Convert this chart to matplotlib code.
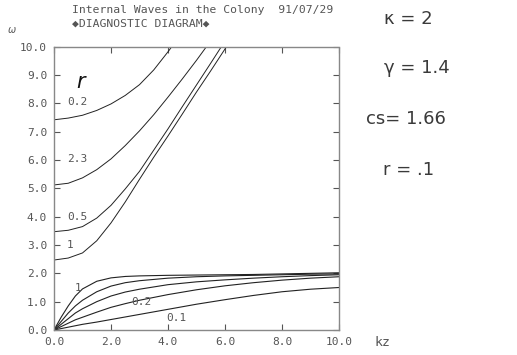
import matplotlib
matplotlib.use("Agg")
import matplotlib.pyplot as plt

# ---- data ----
kz_up = [0, 0.5, 1, 1.5, 2, 2.5, 3, 3.5, 4, 4.5, 5, 5.5, 6, 6.5]
up_r02 = [7.42, 7.48, 7.58, 7.75, 7.98, 8.28, 8.66, 9.18, 9.82, 10.5, 11.1, 11.7, 12.3, 12.9]
up_r23 = [5.12, 5.18, 5.37, 5.66, 6.04, 6.51, 7.03, 7.60, 8.22, 8.86, 9.52, 10.21, 10.9, 11.6]
up_r05 = [3.47, 3.52, 3.65, 3.95, 4.40, 4.98, 5.60, 6.35, 7.10, 7.88, 8.65, 9.42, 10.2, 11.0]
up_r1 = [2.47, 2.54, 2.72, 3.15, 3.78, 4.52, 5.32, 6.10, 6.85, 7.62, 8.40, 9.15, 9.92, 10.7]

kz_lo = [0, 0.25, 0.5, 0.75, 1, 1.5, 2, 2.5, 3, 4, 5, 6, 7, 8, 9, 10]
lo_1 = [0, 0.45, 0.85, 1.20, 1.45, 1.72, 1.84, 1.89, 1.91, 1.93, 1.94, 1.95, 1.96, 1.98, 2.00, 2.02]
lo_b = [0, 0.30, 0.60, 0.85, 1.05, 1.35, 1.55, 1.67, 1.74, 1.83, 1.88, 1.91, 1.93, 1.95, 1.97, 1.98]
lo_c = [0, 0.20, 0.40, 0.60, 0.75, 1.00, 1.20, 1.34, 1.44, 1.60, 1.70, 1.77, 1.83, 1.88, 1.92, 1.95]
lo_02 = [0, 0.12, 0.24, 0.36, 0.45, 0.63, 0.80, 0.93, 1.05, 1.25, 1.42, 1.56, 1.67, 1.76, 1.83, 1.88]
lo_01 = [0, 0.05, 0.10, 0.15, 0.20, 0.28, 0.37, 0.46, 0.55, 0.73, 0.91, 1.07, 1.22, 1.35, 1.44, 1.50]

xticks = [0, 2, 4, 6, 8, 10]
xticklabels = ["0.0", "2.0", "4.0", "6.0", "8.0", "10.0"]
yticks = [0, 1, 2, 3, 4, 5, 6, 7, 8, 9, 10]
yticklabels = ["0.0", "1.0", "2.0", "3.0", "4.0", "5.0", "6.0", "7.0", "8.0", "9.0", "10.0"]

title1 = "Internal Waves in the Colony  91/07/29"
title2 = "\u25c6DIAGNOSTIC DIAGRAM\u25c6"
params = ["\u03ba = 2", "\u03b3 = 1.4", "cs= 1.66", "r = .1"]

# ---- figure ----
W, H = 517, 355
fig = plt.figure(figsize=(W / 100, H / 100), dpi=100)
ax = fig.add_axes([54 / W, 1 - 330 / H, (339 - 54) / W, (330 - 46.7) / H])

lc = "#222222"
for y in (up_r02, up_r23, up_r05, up_r1):
    ax.plot(kz_up, y, color=lc, lw=0.7)
for y in (lo_1, lo_b, lo_c, lo_02, lo_01):
    ax.plot(kz_lo, y, color=lc, lw=0.8)

ax.set_xlim(0, 10)
ax.set_ylim(0, 10)

mono = ["DejaVu Sans Mono", "DejaVu Sans"]
gray = "#555555"
ax.set_xticks(xticks)
ax.set_xticklabels(xticklabels, family=mono, fontsize=8, color=gray)
ax.set_yticks(yticks)
ax.set_yticklabels(yticklabels, family=mono, fontsize=8, color=gray)
ax.tick_params(direction="in", length=4, width=0.8, color=gray,
               top=True, right=True, pad=5)

for s in ("left", "bottom", "top"):
    ax.spines[s].set_color("#888888")
    ax.spines[s].set_linewidth(1.0)
ax.spines["right"].set_color("#888888")
ax.spines["right"].set_linewidth(1.0)
ax.spines["right"].set_linestyle((0, (2, 1)))

# curve labels
lab = dict(family=mono, fontsize=8, color=gray, va="center", ha="left")
ax.text(0.45, 8.05, "0.2", **lab)
ax.text(0.45, 6.05, "2.3", **lab)
ax.text(0.45, 4.0, "0.5", **lab)
ax.text(0.45, 3.0, "1", **lab)
ax.text(0.72, 1.48, "1", **lab)
ax.text(2.7, 0.99, "0.2", **lab)
ax.text(3.95, 0.42, "0.1", **lab)
ax.text(0.95, 8.75, "r", fontsize=15, style="italic", color="#111111",
        ha="center", va="center")

# titles
fig.text(72 / W, 1 - 10 / H, title1, family=mono, fontsize=8.2, color=gray,
         ha="left", va="center")
fig.text(72 / W, 1 - 24 / H, title2, family=mono, fontsize=8.2, color=gray,
         ha="left", va="center")
fig.text(12 / W, 1 - 30 / H, "\u03c9", fontsize=7, style="italic", color=gray,
         ha="center", va="center")
fig.text(375 / W, 1 - 343 / H, "kz", family=mono, fontsize=9.5, color=gray,
         ha="left", va="center")

# parameter text
px = [384, 384, 366, 383]
py = [19, 68, 119, 170]
for t, x, y in zip(params, px, py):
    fig.text(x / W, 1 - y / H, t, fontsize=13, color="#3a3a3a",
             ha="left", va="center")

fig.savefig("out.png", dpi=100)
